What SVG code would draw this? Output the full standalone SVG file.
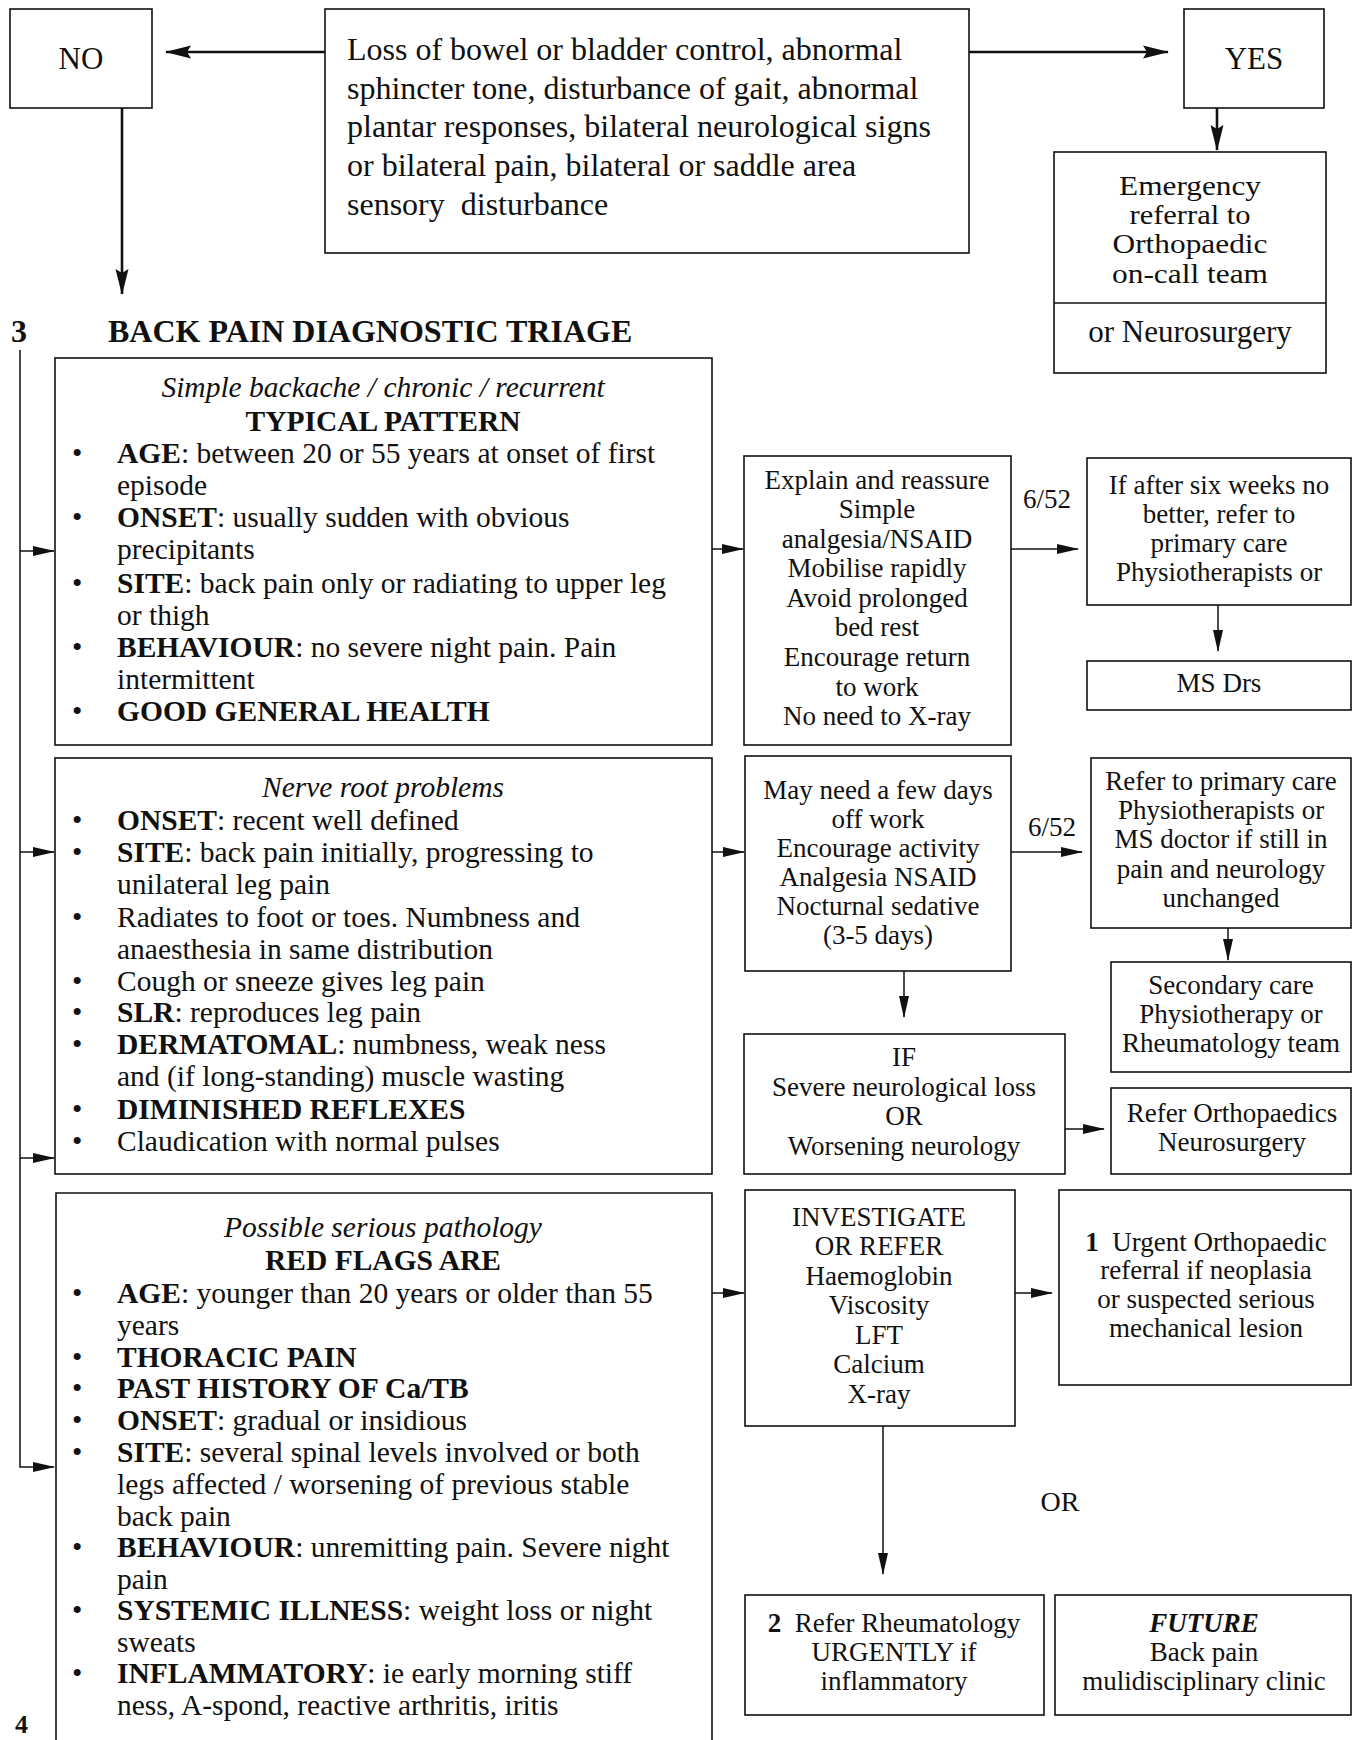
<svg xmlns="http://www.w3.org/2000/svg" width="1354" height="1740" viewBox="0 0 1354 1740">
<style>
.bx{fill:none;stroke:#111;stroke-width:1.6}
.ln{fill:none;stroke:#111;stroke-width:1.5}
.th{fill:none;stroke:#111;stroke-width:2.6}
text{font-family:"Liberation Serif","Times New Roman",serif;fill:#111}
.L{font-size:29.5px}
.M{font-size:27px}
.E{font-size:27px}
.c{text-anchor:middle}
.b{font-weight:bold}
.i{font-style:italic}
</style>
<defs>
<marker id="ah" markerUnits="userSpaceOnUse" markerWidth="22" markerHeight="11" refX="21" refY="5.5" orient="auto">
<path d="M0,0.5 L22,5.5 L0,10.5 z" fill="#111"/>
</marker>
<marker id="ahb" markerUnits="userSpaceOnUse" markerWidth="26" markerHeight="14" refX="25" refY="7" orient="auto">
<path d="M0,0.5 L26,7 L0,13.5 L4,7 z" fill="#111"/>
</marker>
</defs>

<g id="connectors">
<line class="th" x1="325" y1="52" x2="166" y2="52" marker-end="url(#ahb)"/>
<line class="th" x1="969" y1="52" x2="1168" y2="52" marker-end="url(#ahb)"/>
<line class="th" x1="1217" y1="108" x2="1217" y2="150" marker-end="url(#ahb)"/>
<line class="th" x1="122" y1="108" x2="122" y2="294" marker-end="url(#ahb)"/>
<polyline class="ln" points="20,350 20,1467 54,1467" marker-end="url(#ah)"/>
<line class="ln" x1="20" y1="551" x2="54" y2="551" marker-end="url(#ah)"/>
<line class="ln" x1="20" y1="852" x2="54" y2="852" marker-end="url(#ah)"/>
<line class="ln" x1="20" y1="1158" x2="54" y2="1158" marker-end="url(#ah)"/>
<line class="ln" x1="712" y1="549" x2="743" y2="549" marker-end="url(#ah)"/>
<line class="ln" x1="1011" y1="549" x2="1078" y2="549" marker-end="url(#ah)"/>
<line class="ln" x1="1218" y1="605" x2="1218" y2="651" marker-end="url(#ah)"/>
<line class="ln" x1="712" y1="852" x2="744" y2="852" marker-end="url(#ah)"/>
<line class="ln" x1="1011" y1="852" x2="1082" y2="852" marker-end="url(#ah)"/>
<line class="ln" x1="1228" y1="928" x2="1228" y2="960" marker-end="url(#ah)"/>
<line class="ln" x1="904" y1="971" x2="904" y2="1017" marker-end="url(#ah)"/>
<line class="ln" x1="1065" y1="1129" x2="1104" y2="1129" marker-end="url(#ah)"/>
<line class="ln" x1="712" y1="1293" x2="744" y2="1293" marker-end="url(#ah)"/>
<line class="ln" x1="1015" y1="1293" x2="1052" y2="1293" marker-end="url(#ah)"/>
<line class="ln" x1="883" y1="1426" x2="883" y2="1574" marker-end="url(#ah)"/>
<text class="M c" x="1047" y="508">6/52</text>
<text class="M c" x="1052" y="836">6/52</text>
<text class="c" x="1060" y="1511" style="font-size:28px">OR</text>
</g>

<g id="no">
<rect class="bx" x="10" y="9" width="142" height="99"/>
<text x="81" y="69" text-anchor="middle" style="font-size:31px">NO</text>
</g>

<g id="question">
<rect class="bx" x="325" y="9" width="644" height="244"/>
<text x="347" y="60" style="font-size:32px">Loss of bowel or bladder control, abnormal</text>
<text x="347" y="99" style="font-size:32px">sphincter tone, disturbance of gait, abnormal</text>
<text x="347" y="137" style="font-size:32px">plantar responses, bilateral neurological signs</text>
<text x="347" y="176" style="font-size:32px">or bilateral pain, bilateral or saddle area</text>
<text x="347" y="215" style="font-size:32px" xml:space="preserve">sensory  disturbance</text>
</g>

<g id="yes">
<rect class="bx" x="1184" y="9" width="140" height="99"/>
<text x="1254" y="69" text-anchor="middle" style="font-size:31px">YES</text>
</g>

<g id="emergency">
<rect class="bx" x="1054" y="152" width="272" height="221"/>
<line class="ln" x1="1054" y1="303" x2="1326" y2="303"/>
<text class="E c" x="1190" y="195" textLength="142" lengthAdjust="spacingAndGlyphs">Emergency</text>
<text class="E c" x="1190" y="224" textLength="121" lengthAdjust="spacingAndGlyphs">referral to</text>
<text class="E c" x="1190" y="253" textLength="155" lengthAdjust="spacingAndGlyphs">Orthopaedic</text>
<text class="E c" x="1190" y="283" textLength="156" lengthAdjust="spacingAndGlyphs">on-call team</text>
<text x="1190" y="342" text-anchor="middle" style="font-size:31px">or Neurosurgery</text>
</g>

<g id="title">
<text x="11" y="342" class="b" style="font-size:32px">3</text>
<text x="108" y="342" class="b" style="font-size:32px">BACK PAIN DIAGNOSTIC TRIAGE</text>
<text x="15" y="1733" class="b" style="font-size:26px">4</text>
</g>

<g id="simple">
<rect class="bx" x="55" y="358" width="657" height="387"/>
<text class="L i c" x="383" y="397">Simple backache / chronic / recurrent</text>
<text class="L b c" x="383" y="431">TYPICAL PATTERN</text>
<text class="L" x="72" y="463">•</text>
<text class="L" x="117" y="463"><tspan class="b">AGE</tspan>: between 20 or 55 years at onset of first</text>
<text class="L" x="117" y="495">episode</text>
<text class="L" x="72" y="527">•</text>
<text class="L" x="117" y="527"><tspan class="b">ONSET</tspan>: usually sudden with obvious</text>
<text class="L" x="117" y="559">precipitants</text>
<text class="L" x="72" y="593">•</text>
<text class="L" x="117" y="593"><tspan class="b">SITE</tspan>: back pain only or radiating to upper leg</text>
<text class="L" x="117" y="625">or thigh</text>
<text class="L" x="72" y="657">•</text>
<text class="L" x="117" y="657"><tspan class="b">BEHAVIOUR</tspan>: no severe night pain. Pain</text>
<text class="L" x="117" y="689">intermittent</text>
<text class="L" x="72" y="721">•</text>
<text class="L b" x="117" y="721">GOOD GENERAL HEALTH</text>
</g>

<g id="nerve">
<rect class="bx" x="55" y="758" width="657" height="416"/>
<text class="L i c" x="383" y="797">Nerve root problems</text>
<text class="L" x="72" y="830">•</text>
<text class="L" x="117" y="830"><tspan class="b">ONSET</tspan>: recent well defined</text>
<text class="L" x="72" y="862">•</text>
<text class="L" x="117" y="862"><tspan class="b">SITE</tspan>: back pain initially, progressing to</text>
<text class="L" x="117" y="894">unilateral leg pain</text>
<text class="L" x="72" y="927">•</text>
<text class="L" x="117" y="927">Radiates to foot or toes. Numbness and</text>
<text class="L" x="117" y="959">anaesthesia in same distribution</text>
<text class="L" x="72" y="991">•</text>
<text class="L" x="117" y="991">Cough or sneeze gives leg pain</text>
<text class="L" x="72" y="1022">•</text>
<text class="L" x="117" y="1022"><tspan class="b">SLR</tspan>: reproduces leg pain</text>
<text class="L" x="72" y="1054">•</text>
<text class="L" x="117" y="1054"><tspan class="b">DERMATOMAL</tspan>: numbness, weak ness</text>
<text class="L" x="117" y="1086">and (if long-standing) muscle wasting</text>
<text class="L" x="72" y="1119">•</text>
<text class="L b" x="117" y="1119">DIMINISHED REFLEXES</text>
<text class="L" x="72" y="1151">•</text>
<text class="L" x="117" y="1151">Claudication with normal pulses</text>
</g>

<g id="serious">
<path class="bx" d="M56,1750 L56,1193 L712,1193 L712,1750"/>
<text class="L i c" x="383" y="1237">Possible serious pathology</text>
<text class="L b c" x="383" y="1270">RED FLAGS ARE</text>
<text class="L" x="72" y="1303">•</text>
<text class="L" x="117" y="1303"><tspan class="b">AGE</tspan>: younger than 20 years or older than 55</text>
<text class="L" x="117" y="1335">years</text>
<text class="L" x="72" y="1367">•</text>
<text class="L b" x="117" y="1367">THORACIC PAIN</text>
<text class="L" x="72" y="1398">•</text>
<text class="L b" x="117" y="1398">PAST HISTORY OF Ca/TB</text>
<text class="L" x="72" y="1430">•</text>
<text class="L" x="117" y="1430"><tspan class="b">ONSET</tspan>: gradual or insidious</text>
<text class="L" x="72" y="1462">•</text>
<text class="L" x="117" y="1462"><tspan class="b">SITE</tspan>: several spinal levels involved or both</text>
<text class="L" x="117" y="1494">legs affected / worsening of previous stable</text>
<text class="L" x="117" y="1526">back pain</text>
<text class="L" x="72" y="1557">•</text>
<text class="L" x="117" y="1557"><tspan class="b">BEHAVIOUR</tspan>: unremitting pain. Severe night</text>
<text class="L" x="117" y="1589">pain</text>
<text class="L" x="72" y="1620">•</text>
<text class="L" x="117" y="1620"><tspan class="b">SYSTEMIC ILLNESS</tspan>: weight loss or night</text>
<text class="L" x="117" y="1652">sweats</text>
<text class="L" x="72" y="1683">•</text>
<text class="L" x="117" y="1683"><tspan class="b">INFLAMMATORY</tspan>: ie early morning stiff</text>
<text class="L" x="117" y="1715">ness, A-spond, reactive arthritis, iritis</text>
</g>

<g id="explain">
<rect class="bx" x="744" y="456" width="267" height="289"/>
<text class="M c" x="877" y="489">Explain and reassure</text>
<text class="M c" x="877" y="518">Simple</text>
<text class="M c" x="877" y="548">analgesia/NSAID</text>
<text class="M c" x="877" y="577">Mobilise rapidly</text>
<text class="M c" x="877" y="607">Avoid prolonged</text>
<text class="M c" x="877" y="636">bed rest</text>
<text class="M c" x="877" y="666">Encourage return</text>
<text class="M c" x="877" y="696">to work</text>
<text class="M c" x="877" y="725">No need to X-ray</text>
</g>

<g id="sixweeks">
<rect class="bx" x="1087" y="458" width="264" height="147"/>
<text class="M c" x="1219" y="494">If after six weeks no</text>
<text class="M c" x="1219" y="523">better, refer to</text>
<text class="M c" x="1219" y="552">primary care</text>
<text class="M c" x="1219" y="581">Physiotherapists or</text>
</g>

<g id="msdrs">
<rect class="bx" x="1087" y="661" width="264" height="49"/>
<text class="M c" x="1219" y="692">MS Drs</text>
</g>

<g id="daysoff">
<rect class="bx" x="745" y="756" width="266" height="215"/>
<text class="M c" x="878" y="799">May need a few days</text>
<text class="M c" x="878" y="828">off work</text>
<text class="M c" x="878" y="857">Encourage activity</text>
<text class="M c" x="878" y="886">Analgesia NSAID</text>
<text class="M c" x="878" y="915">Nocturnal sedative</text>
<text class="M c" x="878" y="944">(3-5 days)</text>
</g>

<g id="referprimary">
<rect class="bx" x="1091" y="758" width="260" height="170"/>
<text class="M c" x="1221" y="790">Refer to primary care</text>
<text class="M c" x="1221" y="819">Physiotherapists or</text>
<text class="M c" x="1221" y="848">MS doctor if still in</text>
<text class="M c" x="1221" y="878">pain and neurology</text>
<text class="M c" x="1221" y="907">unchanged</text>
</g>

<g id="secondary">
<rect class="bx" x="1111" y="962" width="240" height="110"/>
<text class="M c" x="1231" y="994">Secondary care</text>
<text class="M c" x="1231" y="1023">Physiotherapy or</text>
<text class="M c" x="1231" y="1052">Rheumatology team</text>
</g>

<g id="ifsevere">
<rect class="bx" x="744" y="1034" width="321" height="140"/>
<text class="M c" x="904" y="1066">IF</text>
<text class="M c" x="904" y="1096">Severe neurological loss</text>
<text class="M c" x="904" y="1125">OR</text>
<text class="M c" x="904" y="1155">Worsening neurology</text>
</g>

<g id="referortho">
<rect class="bx" x="1111" y="1088" width="240" height="86"/>
<text class="M c" x="1232" y="1122">Refer Orthopaedics</text>
<text class="M c" x="1232" y="1151">Neurosurgery</text>
</g>

<g id="investigate">
<rect class="bx" x="745" y="1190" width="270" height="236"/>
<text class="M c" x="879" y="1226">INVESTIGATE</text>
<text class="M c" x="879" y="1255">OR REFER</text>
<text class="M c" x="879" y="1285">Haemoglobin</text>
<text class="M c" x="879" y="1314">Viscosity</text>
<text class="M c" x="879" y="1344">LFT</text>
<text class="M c" x="879" y="1373">Calcium</text>
<text class="M c" x="879" y="1403">X-ray</text>
</g>

<g id="urgentortho">
<rect class="bx" x="1059" y="1190" width="292" height="195"/>
<text class="M c" x="1206" y="1251" xml:space="preserve"><tspan class="b">1</tspan>  Urgent Orthopaedic</text>
<text class="M c" x="1206" y="1279">referral if neoplasia</text>
<text class="M c" x="1206" y="1308">or suspected serious</text>
<text class="M c" x="1206" y="1337">mechanical lesion</text>
</g>

<g id="rheum">
<rect class="bx" x="745" y="1595" width="299" height="120"/>
<text class="M c" x="894" y="1632" xml:space="preserve"><tspan class="b">2</tspan>  Refer Rheumatology</text>
<text class="M c" x="894" y="1661">URGENTLY if</text>
<text class="M c" x="894" y="1690">inflammatory</text>
</g>

<g id="future">
<rect class="bx" x="1055" y="1595" width="296" height="120"/>
<text class="M c b i" x="1204" y="1632">FUTURE</text>
<text class="M c" x="1204" y="1661">Back pain</text>
<text class="M c" x="1204" y="1690">mulidisciplinary clinic</text>
</g>
</svg>
